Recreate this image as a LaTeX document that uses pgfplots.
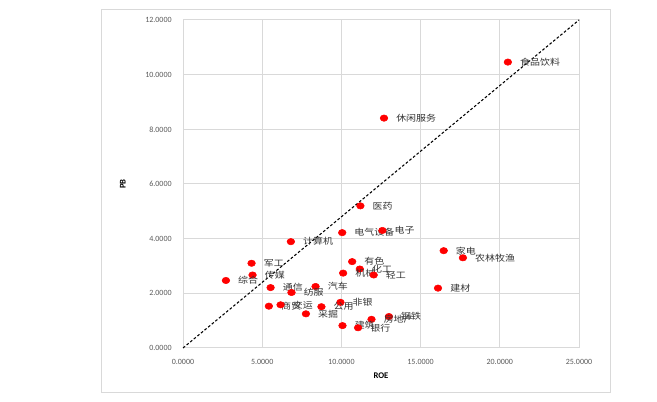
\documentclass[border=0pt]{standalone}
\usepackage{pgfplots}
\pgfplotsset{compat=1.18}
\usepackage{pgfplotstable}
\usepackage{fontspec}
\setmainfont{Carlito}
\newfontfamily\cjk[FakeStretch=1.15]{Noto Sans CJK SC}
\definecolor{gridc}{HTML}{D9D9D9}
\definecolor{labc}{HTML}{333333}
\definecolor{tickc}{HTML}{595959}
\pgfplotstableread{
name x y
食品饮料 20.51 10.46
休闲服务 12.69 8.41
医药 11.20 5.20
电气设备 10.05 4.22
电子 12.59 4.30
计算机 6.81 3.89
家电 16.46 3.56
农林牧渔 17.67 3.30
军工 4.33 3.10
有色 10.68 3.16
化工 11.16 2.89
机械 10.11 2.74
轻工 12.04 2.67
传媒 4.39 2.67
综合 2.71 2.47
通信 5.53 2.21
汽车 8.37 2.25
建材 16.10 2.19
纺服 6.85 2.03
非银 9.94 1.67
商贸 5.42 1.53
交运 6.16 1.58
公用 8.74 1.51
采掘 7.76 1.25
钢铁 13.00 1.15
房地产 11.90 1.05
建筑 10.07 0.82
银行 11.05 0.74
}\datatable
\begin{document}
\begin{tikzpicture}
\path[use as bounding box] (0,0) rectangle (492.75pt,301.5pt);
\draw[gridc, line width=0.75pt] (75.75pt,6.75pt) rectangle (457.5pt,294pt);
\begin{axis}[
  at={(137.25pt,40.5pt)}, anchor=south west,
  scale only axis, width=297pt, height=246pt,
  xmin=0, xmax=25, ymin=0, ymax=12,
  xtick={0,5,...,25}, ytick={0,2,...,12},
  major tick length=0pt,
  grid=major, grid style={gridc, line width=0.75pt},
  axis line style={gridc, line width=0.75pt},
  /pgf/number format/.cd, fixed, fixed zerofill, precision=4, assume math mode=true,
  /pgfplots/.cd,
  tick label style={font=\fontsize{6}{7}\selectfont, text=tickc},
  yticklabel style={xshift=-5pt},
  xticklabel style={yshift=-5pt},
  xlabel={ROE}, ylabel={PB},
  xlabel style={at={(axis description cs:0.5,-0.085)}, anchor=center, font=\bfseries\fontsize{6.5}{7}\selectfont},
  ylabel style={at={(axis description cs:-0.152,0.5)}, anchor=center, font=\bfseries\fontsize{6.5}{7}\selectfont},
  clip=false,
]
\addplot[black, line width=0.8pt, dash pattern=on 2pt off 1.5pt] coordinates {(0,0) (25,12)};
\addplot[only marks, mark=*, mark size=2.4pt,
  mark options={fill=red, draw=red, xscale=1.2},
  point meta=explicit symbolic,
  nodes near coords,
  every node near coord/.append style={anchor=west, inner sep=0pt, xshift=9pt,
    font=\cjk\fontsize{6.5}{7}\selectfont, text=labc},
] table[x=x, y=y, meta=name] {\datatable};
\end{axis}
\end{tikzpicture}
\end{document}
